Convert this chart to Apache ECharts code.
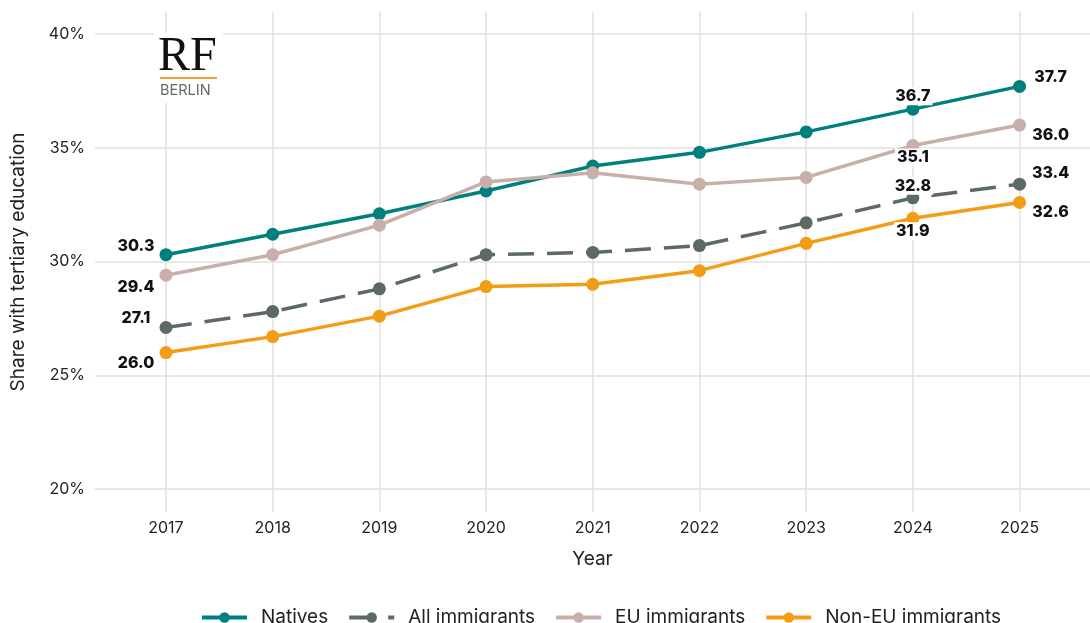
<!DOCTYPE html>
<html>
<head>
<meta charset="utf-8">
<script src="https://cdn.jsdelivr.net/npm/echarts@6/dist/echarts.min.js"></script>
<style>
  html, body { margin: 0; padding: 0; background: #fff; }
  #chart { width: 1090px; height: 623px; }
</style>
</head>
<body>
<div id="chart"></div>
<script>
var chart = echarts.init(document.getElementById('chart'), null, { renderer: 'canvas' });

// data
var years = [2017, 2018, 2019, 2020, 2021, 2022, 2023, 2024, 2025];
var natives = [30.3, 31.2, 32.1, 33.1, 34.2, 34.8, 35.7, 36.7, 37.7];
var allImmigrants = [27.1, 27.8, 28.8, 30.3, 30.4, 30.7, 31.7, 32.8, 33.4];
var euImmigrants = [29.4, 30.3, 31.6, 33.5, 33.9, 33.4, 33.7, 35.1, 36.0];
var nonEuImmigrants = [26.0, 26.7, 27.6, 28.9, 29.0, 29.6, 30.8, 31.9, 32.6];
var yTicks = [20, 25, 30, 35, 40];
var labelYears = [2017, 2024, 2025];

var font = 'Inter, "Noto Sans", sans-serif';

// label offsets (px) for the labelled years, per series
var labelOffsets = {
    'Natives': [[-30, -9], [0, -13], [31, -9]],
    'EU immigrants': [[-30, 12], [0, 12], [31, 10]],
    'All immigrants': [[-30, -9], [0, -12], [31, -11]],
    'Non-EU immigrants': [[-30, 11], [0, 13], [31, 10]]
};

function buildData(name, values) {
    return values.map(function (v, i) {
        var item = { value: [years[i], v] };
        var k = labelYears.indexOf(years[i]);
        if (k >= 0) {
            item.label = {
                show: true,
                position: 'inside',
                offset: labelOffsets[name][k],
                formatter: v.toFixed(1),
                color: '#111',
                fontFamily: font,
                fontWeight: 800,
                fontSize: 16,
                backgroundColor: '#fff',
                padding: [1, 2]
            };
        }
        return item;
    });
}

function makeSeries(name, values, color, dashed) {
    return {
        name: name,
        type: 'line',
        data: buildData(name, values),
        symbol: 'circle',
        symbolSize: 13,
        lineStyle: { color: color, width: 3.5, type: dashed ? [26, 13] : 'solid' },
        itemStyle: { color: color },
        label: { show: false },
        emphasis: { disabled: true }
    };
}

chart.setOption({
    backgroundColor: '#fff',
    animation: false,
    textStyle: { fontFamily: font },
    grid: { left: 95, right: 0, top: 12, bottom: 111 },
    legend: {
        top: 603,
        left: 195,
        itemWidth: 45,
        itemHeight: 13,
        itemGap: 19,
        lineStyle: { width: 4 },
        textStyle: { fontSize: 19, color: '#222', fontFamily: font, padding: [0, 0, 0, 9] },
        data: ['Natives', 'All immigrants', 'EU immigrants', 'Non-EU immigrants']
    },
    xAxis: {
        type: 'value',
        min: 2016.335,
        max: 2025.66,
        name: 'Year',
        nameLocation: 'middle',
        nameGap: 38,
        nameTextStyle: { fontSize: 19, color: '#222', fontFamily: font },
        axisLine: { show: false },
        axisTick: { show: false, customValues: years },
        axisLabel: {
            customValues: years,
            fontSize: 16, color: '#222', margin: 8,
            formatter: function (v) { return String(v); }
        },
        splitLine: { show: true, lineStyle: { color: '#e0e0e0', width: 1.5 } }
    },
    yAxis: {
        type: 'value',
        min: 18.99,
        max: 40.97,
        name: 'Share with tertiary education',
        nameLocation: 'middle',
        nameGap: 67,
        nameTextStyle: { fontSize: 19, color: '#222', fontFamily: font },
        axisLine: { show: false },
        axisTick: { show: false, customValues: yTicks },
        axisLabel: {
            customValues: yTicks,
            fontSize: 16, color: '#222', margin: 10,
            formatter: function (v) { return v + '%'; }
        },
        splitLine: { show: true, lineStyle: { color: '#e0e0e0', width: 1.5 } }
    },
    graphic: [
        { type: 'rect', shape: { x: 154, y: 33, width: 69, height: 70 }, style: { fill: '#fff' }, z: 5 },
        { type: 'text', left: 158, top: 33, z: 6,
          style: { text: 'RF', font: '48px "Liberation Serif", "DejaVu Serif", serif', fill: '#111' } },
        { type: 'rect', shape: { x: 160, y: 77, width: 57, height: 2 }, style: { fill: '#f0a030' }, z: 6 },
        { type: 'text', left: 160, top: 83, z: 6,
          style: { text: 'BERLIN', font: '14.5px ' + font, fill: '#5f6b66' } }
    ],
    series: [
        makeSeries('Natives', natives, '#00807c', false),
        makeSeries('All immigrants', allImmigrants, '#5d6a64', true),
        makeSeries('EU immigrants', euImmigrants, '#c9afaa', false),
        makeSeries('Non-EU immigrants', nonEuImmigrants, '#f39d17', false)
    ]
});
</script>
</body>
</html>
